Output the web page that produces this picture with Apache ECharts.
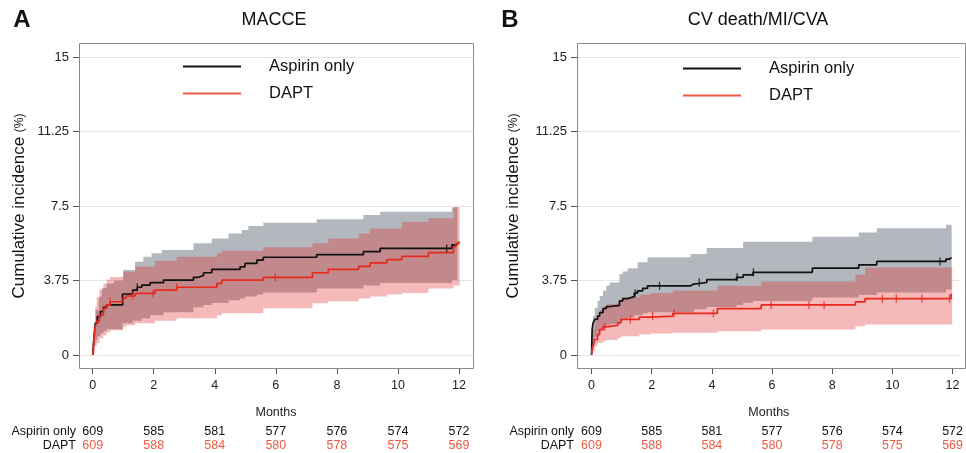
<!DOCTYPE html>
<html>
<head>
<meta charset="utf-8">
<script src="https://cdn.jsdelivr.net/npm/echarts@6.0.0/dist/echarts.min.js"></script>
<style>
html,body{margin:0;padding:0;background:#fff;}
#chart{width:966px;height:453px;}
</style>
</head>
<body>
<div id="chart"></div>
<script>
// ---------- DATA ----------
const monthTicks = [0, 2, 4, 6, 8, 10, 12];
const riskAspirin = [609, 585, 581, 577, 576, 574, 572];
const riskDapt = [609, 588, 584, 580, 578, 575, 569];

// Panel A: MACCE (Kaplan-Meier cumulative incidence, %)
const macceAspirin = [[0,0],[0.02,0.5],[0.05,1.0],[0.08,1.6],[0.15,1.93],[0.25,2.18],[0.35,2.4],[0.45,2.52],[0.98,3.07],[1.31,3.27],[1.46,3.41],[1.61,3.52],[1.88,3.64],[2.32,3.77],[3.30,3.91],[3.46,4.0],[3.63,4.14],[3.90,4.31],[4.83,4.44],[4.99,4.61],[5.38,4.78],[5.59,4.92],[7.34,5.05],[8.87,5.2],[9.42,5.37],[11.77,5.54],[11.93,5.65]];
const macceDapt = [[0,0],[0.04,0.75],[0.075,1.4],[0.13,1.68],[0.22,2.0],[0.35,2.35],[0.46,2.52],[0.57,2.68],[1.0,2.85],[1.09,2.97],[1.39,3.1],[2.04,3.27],[2.75,3.41],[4.07,3.61],[4.23,3.77],[5.59,3.91],[7.2,4.14],[7.72,4.31],[8.71,4.46],[9.09,4.64],[9.64,4.8],[10.13,4.96],[11.0,5.15],[11.82,5.45],[11.9,5.62],[12.0,5.72]];
const macceAspirinCensor = [1.46, 11.6];
const macceDaptCensor = [0.57, 1.31, 1.98, 2.75, 5.98];
const macceAspirinUpper = [[0,0],[0.03,1.1],[0.1,2.26],[0.2,2.94],[0.3,3.37],[0.45,3.6],[0.7,3.75],[1.0,4.28],[1.39,4.7],[1.66,4.95],[1.93,5.12],[2.26,5.28],[3.30,5.62],[3.9,5.87],[4.45,6.12],[4.89,6.29],[5.1,6.49],[5.59,6.66],[7.34,6.83],[8.87,7.05],[9.42,7.21],[11.77,7.43]];
const macceAspirinLower = [[0,0],[0.02,0.2],[0.05,0.45],[0.08,0.75],[0.15,0.95],[0.25,1.1],[0.35,1.2],[0.45,1.3],[0.98,1.6],[1.31,1.72],[1.61,1.85],[1.88,2.0],[2.32,2.15],[3.30,2.4],[3.63,2.52],[3.90,2.62],[4.45,2.75],[4.83,2.85],[4.99,2.95],[5.38,3.05],[5.59,3.15],[7.34,3.35],[8.87,3.5],[9.42,3.62],[11.77,3.77]];
const macceDaptUpper = [[0,0],[0.04,1.5],[0.075,2.4],[0.13,2.9],[0.22,3.3],[0.35,3.6],[0.46,3.8],[0.57,3.93],[1.0,4.19],[1.39,4.45],[2.04,4.75],[2.75,4.95],[4.07,5.12],[4.23,5.25],[5.59,5.42],[7.2,5.62],[7.72,5.87],[8.71,6.12],[9.09,6.37],[10.13,6.71],[11.0,6.88],[11.82,7.45]];
const macceDaptLower = [[0,0],[0.04,0.15],[0.075,0.45],[0.13,0.6],[0.22,0.85],[0.35,1.0],[0.46,1.15],[0.57,1.25],[1.0,1.4],[1.09,1.5],[1.39,1.6],[2.04,1.72],[2.75,1.85],[4.07,2.0],[4.23,2.1],[5.59,2.35],[7.2,2.6],[7.72,2.7],[8.71,2.85],[9.09,2.94],[9.64,3.05],[10.13,3.12],[11.0,3.35],[11.82,3.5]];

// Panel B: CV death/MI/CVA
const cvAspirin = [[0,0],[0.02,1.28],[0.05,1.62],[0.11,1.79],[0.2,1.96],[0.27,2.13],[0.38,2.33],[0.49,2.44],[0.6,2.5],[0.93,2.72],[1.04,2.84],[1.2,2.94],[1.42,3.11],[1.53,3.23],[1.7,3.35],[1.86,3.48],[3.29,3.57],[3.4,3.65],[3.83,3.79],[4.82,3.91],[5.04,4.03],[5.37,4.16],[7.34,4.37],[8.88,4.54],[9.48,4.71],[11.78,4.83],[11.9,4.9],[11.97,4.9]];
const cvDapt = [[0,0],[0.02,0.3],[0.05,0.44],[0.11,0.78],[0.2,1.03],[0.27,1.28],[0.38,1.42],[0.49,1.49],[0.87,1.62],[0.98,1.79],[1.59,1.91],[1.97,1.96],[2.7,2.1],[4.18,2.33],[5.64,2.52],[8.77,2.67],[9.09,2.84],[11.95,3.05],[11.98,3.05]];
const cvAspirinCensor = [1.45, 2.26, 3.58, 4.84, 5.38, 11.58];
const cvDaptCensor = [0.44, 1.29, 2.03, 2.74, 4.05, 5.97, 7.23, 7.73, 9.67, 10.13, 10.98, 11.9];
const cvAspirinUpper = [[0,0],[0.02,1.45],[0.05,1.96],[0.11,2.38],[0.2,2.72],[0.27,2.97],[0.38,3.23],[0.49,3.48],[0.6,3.65],[0.93,4.08],[1.04,4.2],[1.2,4.37],[1.53,4.67],[1.86,4.92],[3.29,5.09],[3.83,5.38],[5.04,5.7],[7.34,5.95],[8.88,6.17],[9.48,6.38],[11.78,6.56]];
const cvAspirinLower = [[0,0],[0.02,0.5],[0.05,0.7],[0.11,0.9],[0.2,1.1],[0.27,1.25],[0.38,1.4],[0.49,1.5],[0.6,1.55],[0.93,1.72],[1.04,1.82],[1.2,1.9],[1.42,2.0],[1.7,2.1],[1.86,2.15],[3.4,2.3],[3.83,2.42],[4.82,2.52],[5.04,2.62],[5.37,2.72],[7.34,2.9],[8.88,3.02],[9.48,3.15],[11.78,3.3]];
const cvDaptUpper = [[0,0],[0.02,0.9],[0.05,1.3],[0.11,1.7],[0.2,2.0],[0.27,2.25],[0.38,2.45],[0.49,2.55],[0.87,2.7],[0.98,2.9],[1.59,3.05],[1.97,3.12],[2.7,3.25],[4.18,3.48],[5.64,3.7],[8.77,4.05],[9.09,4.4]];
const cvDaptLower = [[0,0],[0.02,0.1],[0.05,0.2],[0.11,0.44],[0.2,0.6],[0.38,0.69],[0.49,0.75],[0.87,0.86],[0.98,0.95],[1.59,1.03],[1.97,1.08],[2.7,1.12],[4.18,1.2],[5.64,1.28],[8.77,1.45],[9.09,1.54]];

// ---------- CHART ----------
const FONT = "'Liberation Sans', Arial, Helvetica, sans-serif";
const BLACK = '#111111';
const RED = '#e8291e';
const RED_TEXT = '#ef5a42';
const GRAY_BAND = 'rgba(166,172,179,0.85)';
const RED_BAND = 'rgba(226,44,44,0.33)';

function stepValue(curve, t) {
  let v = 0;
  for (const p of curve) { if (p[0] <= t) v = p[1]; }
  return v;
}
function stepPoints(arr, tEnd) {
  const pts = [];
  for (let i = 0; i < arr.length; i++) {
    const next = i + 1 < arr.length ? arr[i + 1][0] : tEnd;
    pts.push([arr[i][0], arr[i][1]]);
    pts.push([next, arr[i][1]]);
  }
  return pts;
}
function band(xi, yi, upper, lower, tEnd, color) {
  return {
    type: 'custom', xAxisIndex: xi, yAxisIndex: yi, silent: true, z: 2,
    data: [[0, 0]],
    renderItem: function (params, api) {
      if (params.dataIndex > 0) return null;
      const up = stepPoints(upper, tEnd).map(p => api.coord(p));
      const lo = stepPoints(lower, tEnd).map(p => api.coord(p)).reverse();
      return { type: 'polygon', shape: { points: up.concat(lo) }, style: { fill: color } };
    }
  };
}
function km(xi, yi, name, data, color) {
  return {
    type: 'line', name: name, xAxisIndex: xi, yAxisIndex: yi, data: data, step: 'end',
    showSymbol: false, symbol: 'none', z: 5, silent: true,
    lineStyle: { color: color, width: 1.7 }, itemStyle: { color: color }
  };
}
function censor(xi, yi, times, curve, color) {
  return {
    type: 'scatter', xAxisIndex: xi, yAxisIndex: yi, silent: true, z: 6,
    symbol: 'rect', symbolSize: [1.3, 8],
    itemStyle: { color: color },
    data: times.map(t => [t, stepValue(curve, t)])
  };
}
function mainX(gi, min, max) {
  return {
    type: 'value', gridIndex: gi, min: min, max: max, position: 'bottom', offset: 13,
    axisLine: { show: false, onZero: false },
    splitLine: { show: false },
    axisTick: { show: true, customValues: monthTicks, length: 6, lineStyle: { color: '#555' } },
    axisLabel: { customValues: monthTicks, margin: 11, fontSize: 12.5, color: '#222', fontFamily: FONT },
    name: 'Months', nameLocation: 'middle', nameGap: 38,
    nameTextStyle: { fontSize: 12.5, color: '#222', fontFamily: FONT }
  };
}
function riskX(gi, min, max, offset, label, values, color) {
  return {
    type: 'value', gridIndex: gi, min: min, max: max, position: 'bottom', offset: offset,
    axisLine: { show: false, onZero: false }, axisTick: { show: false }, splitLine: { show: false },
    axisLabel: {
      customValues: monthTicks, margin: 0, verticalAlign: 'middle', color: color,
      fontSize: 12.5, fontFamily: FONT,
      formatter: v => String(values[monthTicks.indexOf(v)])
    },
    name: label, nameLocation: 'start', nameGap: 3,
    nameTextStyle: { color: '#111', fontSize: 12.5, fontFamily: FONT, align: 'right', verticalAlign: 'middle' }
  };
}
function yAx(gi, gap) {
  return {
    type: 'value', gridIndex: gi, min: 0, max: 15, interval: 3.75,
    axisLine: { show: false, onZero: false },
    axisTick: { show: true, length: 6, lineStyle: { color: '#555' } },
    axisLabel: { margin: 10, fontSize: 13, color: '#222', fontFamily: FONT },
    splitLine: { show: true, lineStyle: { color: '#e6e6e6', width: 1 } },
    name: '{a|Cumulative incidence }{b|(%)}', nameLocation: 'middle', nameGap: gap,
    nameTextStyle: { rich: { a: { fontSize: 17, color: '#111', fontFamily: FONT }, b: { fontSize: 12, color: '#111', fontFamily: FONT } } }
  };
}
function legendAt(left, top) {
  return {
    left: left, top: top, padding: 0, orient: 'vertical', icon: 'rect', itemWidth: 58, itemHeight: 2, itemGap: 10,
    selectedMode: false,
    data: [{ name: 'Aspirin only', itemStyle: { color: BLACK } }, { name: 'DAPT', itemStyle: { color: RED_TEXT } }],
    textStyle: { fontSize: 16.5, color: '#111', fontFamily: FONT, padding: [0, 0, 0, 23] }
  };
}
function txt(x, y, s, size, weight) {
  return { type: 'text', x: x, y: y, silent: true, z: 100,
    style: { text: s, fontSize: size, fontWeight: weight || 'normal', fontFamily: FONT, fill: '#111',
      align: 'center', verticalAlign: 'middle', textAlign: 'center', textVerticalAlign: 'middle' } };
}
function box(x, y, w, h) {
  return { type: 'rect', silent: true, z: 100, shape: { x: x, y: y, width: w, height: h },
    style: { fill: 'none', stroke: '#888', lineWidth: 1 } };
}

// x-extent of each plot frame in months
const A_MIN = -0.449, A_MAX = 12.46;
const B_MIN = -0.483, B_MAX = 12.27;

const chart = echarts.init(document.getElementById('chart'), null, { renderer: 'canvas' });
chart.setOption({
  animation: false,
  backgroundColor: '#ffffff',
  grid: [
    { left: 79, top: 57, width: 394, height: 298 },
    { left: 577, top: 57, width: 388, height: 298 }
  ],
  xAxis: [
    mainX(0, A_MIN, A_MAX),
    riskX(0, A_MIN, A_MAX, 77, 'Aspirin only', riskAspirin, '#111'),
    riskX(0, A_MIN, A_MAX, 91, 'DAPT', riskDapt, RED_TEXT),
    mainX(1, B_MIN, B_MAX),
    riskX(1, B_MIN, B_MAX, 77, 'Aspirin only', riskAspirin, '#111'),
    riskX(1, B_MIN, B_MAX, 91, 'DAPT', riskDapt, RED_TEXT)
  ],
  yAxis: [yAx(0, 51), yAx(1, 55)],
  legend: [legendAt(183, 58), legendAt(683, 60)],
  graphic: [
    box(79.5, 43.5, 394, 325),
    box(577.5, 43.5, 388, 325),
    txt(274, 20, 'MACCE', 18),
    txt(758, 20, 'CV death/MI/CVA', 18),
    txt(22, 20, 'A', 24, 'bold'),
    txt(510, 20, 'B', 24, 'bold')
  ],
  series: [
    band(0, 0, macceAspirinUpper, macceAspirinLower, 11.95, GRAY_BAND),
    band(0, 0, macceDaptUpper, macceDaptLower, 12.02, RED_BAND),
    km(0, 0, 'Aspirin only', macceAspirin, BLACK),
    km(0, 0, 'DAPT', macceDapt, RED),
    censor(0, 0, macceAspirinCensor, macceAspirin, BLACK),
    censor(0, 0, macceDaptCensor, macceDapt, RED),
    band(3, 1, cvAspirinUpper, cvAspirinLower, 11.97, GRAY_BAND),
    band(3, 1, cvDaptUpper, cvDaptLower, 11.99, RED_BAND),
    km(3, 1, 'Aspirin only', cvAspirin, BLACK),
    km(3, 1, 'DAPT', cvDapt, RED),
    censor(3, 1, cvAspirinCensor, cvAspirin, BLACK),
    censor(3, 1, cvDaptCensor, cvDapt, RED)
  ]
});
</script>
</body>
</html>
